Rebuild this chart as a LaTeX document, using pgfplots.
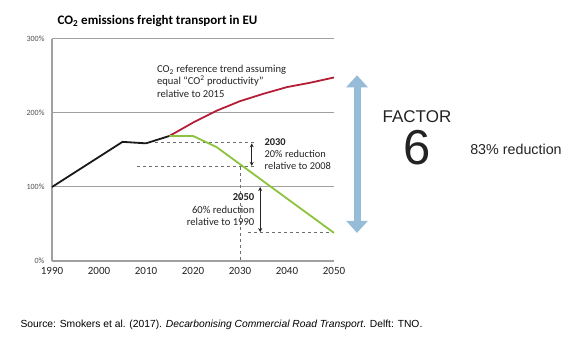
\documentclass[border=0pt]{standalone}
\usepackage{pgfplots}
\pgfplotsset{compat=1.18}
\usepackage{fontspec}
\setmainfont{Carlito}
\newfontfamily\arial{Liberation Sans}
\usetikzlibrary{arrows.meta}
\definecolor{axgray}{RGB}{160,160,160}
\definecolor{dashgray}{RGB}{110,110,110}
\definecolor{refred}{RGB}{180,30,55}
\definecolor{tgtgreen}{RGB}{140,195,60}
\definecolor{bigblue}{RGB}{150,188,215}
\definecolor{txt}{RGB}{35,35,35}
\begin{document}
\begin{tikzpicture}
\path[use as bounding box] (0,0) rectangle (571pt,351pt);
\begin{axis}[
  at={(52pt,90pt)}, anchor=south west,
  scale only axis, width=282pt, height=222pt,
  xmin=1990, xmax=2050, ymin=0, ymax=300,
  clip=false,
  axis lines=left,
  axis line style={axgray, line width=1.1pt, -},
  xtick={1990,2000,...,2050},
  ytick={0,100,200,300},
  yticklabels={0\%,100\%,200\%,300\%},
  major tick length=0pt,
  ymajorgrids,
  grid style={axgray, line width=1pt},
  /pgf/number format/1000 sep={},
  /pgf/number format/assume math mode=true,
  xticklabel style={font=\fontsize{11}{12}\selectfont, text=txt, yshift=-3pt},
  yticklabel style={font=\fontsize{8}{9}\selectfont, text=txt!80, xshift=-4pt},
]
% dashed reference lines
\draw[dashgray, line width=0.8pt, dash pattern=on 3pt off 3pt] (axis cs:2012,160) -- (axis cs:2033.2,160);
\draw[dashgray, line width=0.8pt, dash pattern=on 3pt off 3pt] (axis cs:2008,127.5) -- (axis cs:2033.2,127.5);
\draw[dashgray, line width=0.8pt, dash pattern=on 3pt off 3pt] (axis cs:2030,127.5) -- (axis cs:2030,0);
\draw[dashgray, line width=0.8pt, dash pattern=on 3pt off 3pt] (axis cs:2031.7,38) -- (axis cs:2050,38);
% arrows
\draw[txt, line width=0.9pt, {Stealth[length=4pt,width=4pt]}-{Stealth[length=4pt,width=4pt]}] (axis cs:2032.5,159) -- (axis cs:2032.5,128.5);
\draw[txt, line width=0.9pt, {Stealth[length=4pt,width=4pt]}-{Stealth[length=4pt,width=4pt]}] (axis cs:2034.3,100) -- (axis cs:2034.3,39);
% data
\addplot[black!90, line width=1.8pt] coordinates {(1990,100) (2005,161) (2010,159) (2015,169)};
\addplot[refred, line width=1.8pt] coordinates {(2015,169) (2020,187) (2025,203) (2030,216) (2035,226) (2040,235) (2045,241) (2050,248)};
\addplot[tgtgreen, line width=1.8pt] coordinates {(2015,169) (2020,169) (2025,154) (2050,38)};
% big arrow
\draw[bigblue, line width=7pt, {Triangle[width=21pt,length=12pt]}-{Triangle[width=21pt,length=12pt]}] (axis cs:2054.9,251) -- (axis cs:2054.9,38);
% annotations
\node[anchor=west, align=left, font=\fontsize{10.6}{12.3}\selectfont, text=txt] at (axis cs:2011.6,243)
  {CO\textsubscript{2} reference trend assuming\\equal “CO\textsuperscript{2} productivity”\\relative to 2015};
\node[anchor=west, align=left, font=\fontsize{10.4}{12.3}\selectfont, text=txt] at (axis cs:2034.5,144.5)
  {\textbf{2030}\\20\% reduction\\relative to 2008};
\node[anchor=east, align=right, font=\fontsize{10.6}{12.3}\selectfont, text=txt] at (axis cs:2033.8,69.5)
  {\textbf{2050}\\60\% reduction\\relative to 1990};
\end{axis}
% title
\node[font=\bfseries\fontsize{13}{15}\selectfont, text=black] at (157.5pt,330pt) {CO\textsubscript{2} emissions freight transport in EU};
% factor text
\node[font=\arial\fontsize{17}{19}\selectfont, text=txt] at (417pt,234pt) {FACTOR};
\node[font=\arial\fontsize{49}{50}\selectfont, text=txt] at (417pt,203pt) {6};
\node[font=\arial\fontsize{14.3}{16}\selectfont, text=txt] at (516pt,202pt) {83\% reduction};
% source
\node[anchor=west, font=\arial\fontsize{10.3}{12}\selectfont, text=black] at (17pt,26pt)
  {Source: Smokers et al. (2017). \textit{Decarbonising Commercial Road Transport}. Delft: TNO.};
\end{tikzpicture}
\end{document}
